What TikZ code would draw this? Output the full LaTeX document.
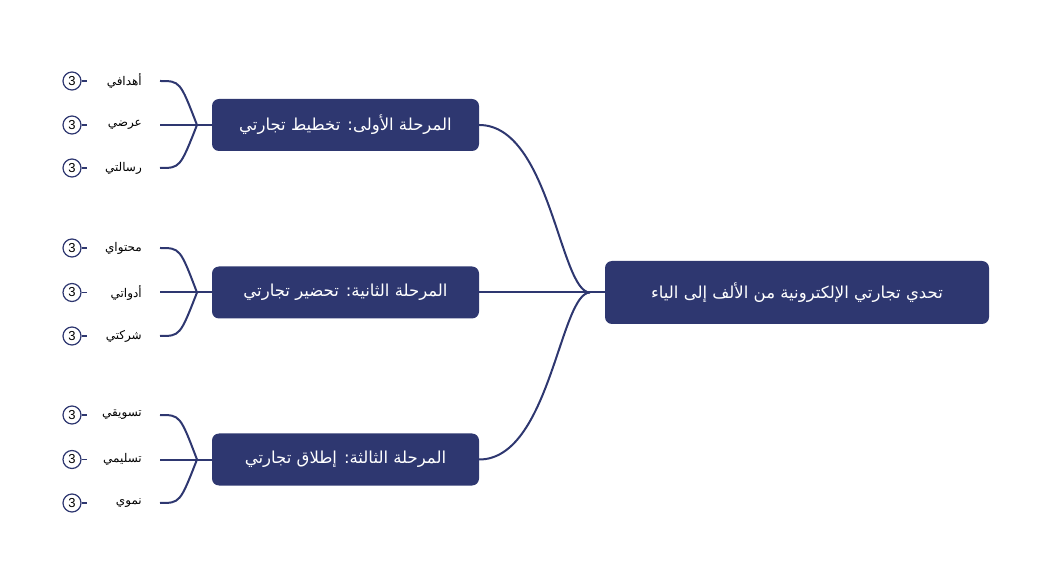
\documentclass[tikz,border=0pt]{standalone}
\usepackage{fontspec}
\setmainfont{Liberation Sans}
\newfontfamily\arabicfont[Script=Arabic]{DejaVu Sans}
\TeXXeTstate=1
\definecolor{navy}{HTML}{2E3770}
\tikzset{
 rootbox/.style={fill=navy,rounded corners=7pt,minimum width=384pt,minimum height=63pt,text=white,font=\arabicfont\fontsize{16.5}{18}\selectfont,inner sep=0pt},
 branchbox/.style={fill=navy,rounded corners=7pt,minimum width=267pt,minimum height=52pt,text=white,font=\arabicfont\fontsize{16.5}{18}\selectfont,inner sep=0pt},
 leaftext/.style={font=\arabicfont\fontsize{12}{14}\selectfont,anchor=east,inner sep=1pt},
 badge/.style={circle,draw=navy,line width=1.2pt,minimum size=18pt,inner sep=0pt,font=\fontsize{13}{14}\selectfont},
 conn/.style={draw=navy,line width=2pt},
 thin/.style={draw=navy,line width=1.4pt},
}
\begin{document}
\begin{tikzpicture}[x=1pt,y=-1pt]
\useasboundingbox (0,0) rectangle (1053,585);
\node[rootbox] (root) at (797,292.5) {\beginR تحدي تجارتي الإلكترونية من الألف إلى الياء\endR};
\coordinate (rj) at (590,292.5);
\draw[conn] (root.west) -- (rj);
\foreach \i/\y/\t in {1/125/{المرحلة الأولى: تخطيط تجارتي},2/292.5/{المرحلة الثانية: تحضير تجارتي},3/459.5/{المرحلة الثالثة: إطلاق تجارتي}}{
  \node[branchbox] (b\i) at (345.5,\y) {\beginR\t\endR};
  \draw[conn] (rj) .. controls (560,292.5) and (550,\y) .. (b\i.east);
  \coordinate (j\i) at (197,\y);
  \draw[conn] (b\i.west) -- (j\i);
}
\foreach \i/\k/\y/\t in {1/1/81/{أهدافي},1/2/125/{عرضي},1/3/168/{رسالتي},2/1/248/{محتواي},2/2/292.5/{أدواتي},2/3/336/{شركتي},3/1/415/{تسويقي},3/2/459.5/{تسليمي},3/3/503/{نموي}}{
  \coordinate (e\i\k) at (160,\y);
  \draw[conn] (j\i) .. controls (180,\y) .. (e\i\k) ;
  \node[leaftext] (t\i\k) at (143,\y) {\beginR\t\endR};
  \node[badge] (c\i\k) at (72,\y) {3};
  \coordinate (d\i\k) at (87,\y);
  \draw[thin] (c\i\k.east) -- (d\i\k);
}
\end{tikzpicture}
\end{document}
